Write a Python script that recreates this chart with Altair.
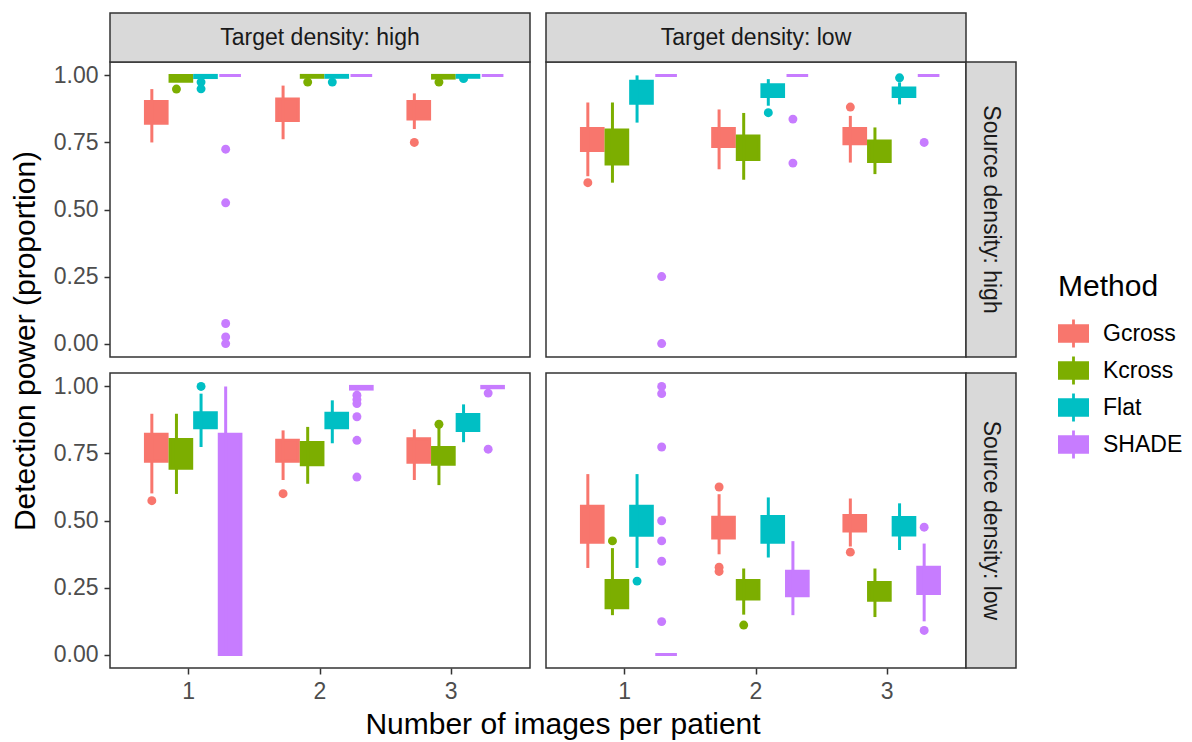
import altair as alt
import pandas as pd

methods = ["Gcross", "Kcross", "Flat", "SHADE"]
colors = ["#F8766D", "#7CAE00", "#00BFC4", "#C77CFF"]
images = ["1", "2", "3"]

# box stats per panel: order images 1..3, methods Gcross, Kcross, Flat, SHADE
# each entry: (lower whisker, q1, q3, upper whisker)
box_src_high_tgt_high = [
    (0.750, 0.822, 0.903, 0.949), (0.978, 0.978, 1.000, 1.000), (0.985, 0.992, 1.000, 1.000), (1.000, 1.000, 1.000, 1.000),
    (0.762, 0.832, 0.912, 0.962), (0.990, 0.993, 1.000, 1.000), (0.990, 0.993, 1.000, 1.000), (1.000, 1.000, 1.000, 1.000),
    (0.800, 0.837, 0.903, 0.933), (0.990, 0.990, 1.000, 1.000), (0.993, 0.993, 1.000, 1.000), (1.000, 1.000, 1.000, 1.000),
]
box_src_high_tgt_low = [
    (0.624, 0.720, 0.802, 0.899), (0.600, 0.670, 0.796, 0.899), (0.824, 0.896, 0.978, 1.000), (1.000, 1.000, 1.000, 1.000),
    (0.650, 0.735, 0.802, 0.873), (0.611, 0.686, 0.774, 0.860), (0.887, 0.921, 0.965, 0.986), (1.000, 1.000, 1.000, 1.000),
    (0.675, 0.745, 0.802, 0.849), (0.632, 0.679, 0.755, 0.806), (0.892, 0.921, 0.953, 0.974), (1.000, 1.000, 1.000, 1.000),
]
box_src_low_tgt_high = [
    (0.601, 0.721, 0.822, 0.898), (0.599, 0.695, 0.802, 0.898), (0.774, 0.846, 0.902, 0.973), (0.000, 0.000, 0.822, 1.000),
    (0.651, 0.721, 0.799, 0.836), (0.637, 0.708, 0.791, 0.849), (0.788, 0.846, 0.900, 0.948), (0.985, 0.990, 1.000, 1.000),
    (0.651, 0.717, 0.805, 0.840), (0.632, 0.710, 0.772, 0.849), (0.792, 0.836, 0.895, 0.933), (0.995, 0.995, 1.000, 1.000),
]
box_src_low_tgt_low = [
    (0.323, 0.419, 0.553, 0.673), (0.147, 0.175, 0.276, 0.397), (0.323, 0.445, 0.553, 0.673), (0.000, 0.000, 0.000, 0.000),
    (0.374, 0.435, 0.512, 0.598), (0.149, 0.207, 0.276, 0.321), (0.362, 0.419, 0.515, 0.586), (0.147, 0.219, 0.311, 0.423),
    (0.403, 0.461, 0.519, 0.582), (0.140, 0.203, 0.269, 0.321), (0.390, 0.446, 0.511, 0.564), (0.124, 0.228, 0.326, 0.414),
]

# outliers per panel: (images, method, value)
out_src_high_tgt_high = [
    ("1", "Kcross", 0.949), ("1", "Flat", 0.975), ("1", "Flat", 0.950),
    ("1", "SHADE", 0.725), ("1", "SHADE", 0.525), ("1", "SHADE", 0.075), ("1", "SHADE", 0.025), ("1", "SHADE", 0.000),
    ("2", "Kcross", 0.975), ("2", "Flat", 0.975),
    ("3", "Gcross", 0.750), ("3", "Kcross", 0.975), ("3", "Flat", 0.988),
]
out_src_high_tgt_low = [
    ("1", "Gcross", 0.600), ("1", "SHADE", 0.250), ("1", "SHADE", 0.000),
    ("2", "Flat", 0.861), ("2", "SHADE", 0.837), ("2", "SHADE", 0.673),
    ("3", "Gcross", 0.882), ("3", "Flat", 0.991), ("3", "SHADE", 0.750),
]
out_src_low_tgt_high = [
    ("1", "Gcross", 0.574), ("1", "Flat", 1.000),
    ("2", "Gcross", 0.600), ("2", "SHADE", 0.967), ("2", "SHADE", 0.951), ("2", "SHADE", 0.936),
    ("2", "SHADE", 0.887), ("2", "SHADE", 0.799), ("2", "SHADE", 0.662),
    ("3", "Kcross", 0.859), ("3", "SHADE", 0.975), ("3", "SHADE", 0.766),
]
out_src_low_tgt_low = [
    ("1", "Kcross", 0.424), ("1", "Flat", 0.274),
    ("1", "SHADE", 1.000), ("1", "SHADE", 0.973), ("1", "SHADE", 0.774), ("1", "SHADE", 0.499),
    ("1", "SHADE", 0.424), ("1", "SHADE", 0.348), ("1", "SHADE", 0.123),
    ("2", "Gcross", 0.625), ("2", "Gcross", 0.326), ("2", "Gcross", 0.310), ("2", "Kcross", 0.110),
    ("3", "Gcross", 0.382), ("3", "SHADE", 0.475), ("3", "SHADE", 0.090),
]

panels = [
    ("high", "high", box_src_high_tgt_high, out_src_high_tgt_high),
    ("high", "low", box_src_high_tgt_low, out_src_high_tgt_low),
    ("low", "high", box_src_low_tgt_high, out_src_low_tgt_high),
    ("low", "low", box_src_low_tgt_low, out_src_low_tgt_low),
]

rows = []
for src, tgt, boxes, outs in panels:
    k = 0
    for img in images:
        for m in methods:
            lo, q1, q3, hi = boxes[k]
            k += 1
            rows.append(dict(kind="box", source=src, target=tgt, images=img, method=m,
                             lo=lo, q1=q1, q3=q3, hi=hi))
    for img, m, v in outs:
        rows.append(dict(kind="out", source=src, target=tgt, images=img, method=m, value=v))
# strip labels
for tgt in ["high", "low"]:
    rows.append(dict(kind="colstrip", source="high", target=tgt, label=f"Target density: {tgt}"))
for src in ["high", "low"]:
    rows.append(dict(kind="rowstrip", source=src, target="low", label=f"Source density: {src}"))

df = pd.DataFrame(rows)

W, H = 420, 295
STRIP_H, STRIP_W = 49, 50
FONT = "Liberation Sans"

xenc = alt.X("images:N", scale=alt.Scale(domain=images, paddingInner=0.25, paddingOuter=0.225),
             axis=alt.Axis(title=None, labelAngle=0))
xoff = alt.XOffset("method:N", sort=methods, scale=alt.Scale(domain=methods, paddingInner=0, paddingOuter=0))
yscale = alt.Scale(domain=[-0.05, 1.05], nice=False, zero=False)
yaxis = alt.Axis(title=None, values=[0, 0.25, 0.5, 0.75, 1.0], format=".2f")
cscale = alt.Scale(domain=methods, range=colors)
legend = alt.Legend(
    title="Method", orient="none", legendX=948, legendY=210,
    symbolType="M-1,-0.6H1V0.6H-1Z M-0.09,-0.9H0.09V-0.6H-0.09Z M-0.09,0.6H0.09V0.9H-0.09Z",
    symbolSize=961, symbolStrokeWidth=0, symbolOpacity=1,
    titleFontSize=30, labelFontSize=23, titleFont=FONT, labelFont=FONT,
    titleFontWeight="normal", titleColor="black", labelColor="black",
    rowPadding=7, titlePadding=16, labelOffset=14,
)
color = alt.Color("method:N", scale=cscale, legend=legend, sort=methods)

base = alt.Chart()

boxes_layer = base.mark_bar(width={"band": 0.88}, strokeWidth=3, opacity=1).encode(
    x=xenc, xOffset=xoff,
    y=alt.Y("q1:Q", scale=yscale, axis=yaxis), y2="q3:Q",
    color=color,
    stroke=alt.Stroke("method:N", scale=cscale, legend=None),
).transform_filter(alt.datum.kind == "box")

whisk_layer = base.mark_rule(strokeWidth=3).encode(
    x=xenc, xOffset=xoff,
    y=alt.Y("lo:Q", scale=yscale, axis=yaxis), y2="hi:Q",
    color=color,
).transform_filter(alt.datum.kind == "box")

out_layer = base.mark_circle(size=80, opacity=1).encode(
    x=xenc, xOffset=xoff,
    y=alt.Y("value:Q", scale=yscale, axis=yaxis),
    color=color,
).transform_filter(alt.datum.kind == "out")

col_strip = base.mark_rect(fill="#D9D9D9", stroke="#333333", strokeWidth=1.5, clip=False).encode(
    x=alt.value(0), x2=alt.value(W), y=alt.value(-STRIP_H), y2=alt.value(0),
).transform_filter(alt.datum.kind == "colstrip")
col_text = base.mark_text(fontSize=23, font=FONT, color="#1A1A1A", clip=False).encode(
    x=alt.value(W / 2), y=alt.value(-STRIP_H / 2), text="label:N",
).transform_filter(alt.datum.kind == "colstrip")

row_strip = base.mark_rect(fill="#D9D9D9", stroke="#333333", strokeWidth=1.5, clip=False).encode(
    x=alt.value(W), x2=alt.value(W + STRIP_W), y=alt.value(0), y2=alt.value(H),
).transform_filter(alt.datum.kind == "rowstrip")
row_text = base.mark_text(fontSize=23, font=FONT, color="#1A1A1A", angle=90, clip=False).encode(
    x=alt.value(W + STRIP_W / 2), y=alt.value(H / 2), text="label:N",
).transform_filter(alt.datum.kind == "rowstrip")

layered = alt.layer(boxes_layer, whisk_layer, out_layer, col_strip, col_text, row_strip, row_text,
                    data=df).properties(width=W, height=H)

chart = layered.facet(
    row=alt.Row("source:N", sort=["high", "low"],
                header=alt.Header(labels=False, title="Detection power (proportion)",
                                  titleFontSize=30, titleFont=FONT, titleFontWeight="normal",
                                  titleColor="black", titlePadding=2)),
    column=alt.Column("target:N", sort=["high", "low"],
                      header=alt.Header(labels=False, title="Number of images per patient",
                                        titleOrient="bottom",
                                        titleFontSize=30, titleFont=FONT, titleFontWeight="normal",
                                        titleColor="black", titlePadding=-3)),
    spacing={"row": 16, "column": 16},
    bounds="flush",
).configure(
    background="white", padding={"left": 2, "top": 3, "right": 0, "bottom": 0}
).configure_view(
    stroke="#333333", strokeWidth=1.5, fill="white"
).configure_axis(
    domain=False, grid=False, tickColor="#333333", tickWidth=1.5, tickSize=6,
    labelFontSize=23, labelFont=FONT, labelColor="#4D4D4D", labelPadding=6,
)

chart.save("out.html", embed_options={"renderer": "svg", "actions": False})
